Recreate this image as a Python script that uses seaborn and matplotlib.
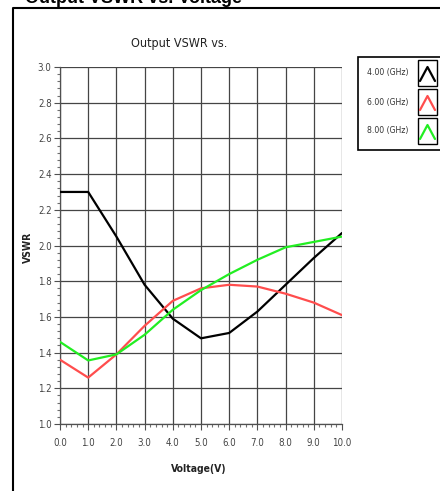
import matplotlib
matplotlib.use("Agg")
import matplotlib.pyplot as plt
import seaborn as sns
import pandas as pd
import numpy as np
from matplotlib.lines import Line2D
from matplotlib.patches import Rectangle
from matplotlib.ticker import MultipleLocator, AutoMinorLocator

# ---- data ----
voltage = [0, 1, 2, 3, 4, 5, 6, 7, 8, 9, 10]
vswr_4ghz = [2.30, 2.30, 2.05, 1.78, 1.59, 1.48, 1.51, 1.63, 1.78, 1.93, 2.07]
vswr_6ghz = [1.36, 1.26, 1.39, 1.55, 1.69, 1.76, 1.78, 1.77, 1.73, 1.68, 1.61]
vswr_8ghz = [1.46, 1.356, 1.39, 1.50, 1.64, 1.75, 1.84, 1.92, 1.99, 2.02, 2.05]
series_names = ["4.00 (GHz)", "6.00 (GHz)", "8.00 (GHz)"]
series_colors = ["#000000", "#ff4d4d", "#22ee22"]
x_ticks = [0, 1, 2, 3, 4, 5, 6, 7, 8, 9, 10]
y_ticks = [1.0, 1.2, 1.4, 1.6, 1.8, 2.0, 2.2, 2.4, 2.6, 2.8, 3.0]

df = pd.DataFrame({
    "Voltage": voltage * 3,
    "VSWR": vswr_4ghz + vswr_6ghz + vswr_8ghz,
    "Freq": [series_names[0]] * 11 + [series_names[1]] * 11 + [series_names[2]] * 11,
})

sns.set_style("white")
plt.rcParams["font.family"] = ["DejaVu Sans"]
plt.rcParams["font.stretch"] = "condensed"

W, H = 440, 491
fig = plt.figure(figsize=(W / 100, H / 100), dpi=100)

def fx(px):
    return px / W

def fy(py):
    return 1 - py / H

ax = fig.add_axes([fx(60), fy(424), fx(342) - fx(60), fy(67) - fy(424)])

sns.lineplot(data=df, x="Voltage", y="VSWR", hue="Freq",
             palette=dict(zip(series_names, series_colors)),
             linewidth=1.6, ax=ax, legend=False, zorder=3)

ax.set_xlim(0, 10)
ax.set_ylim(1.0, 3.0)
ax.set_xticks(x_ticks)
ax.set_xticklabels([f"{v:.1f}" for v in x_ticks])
ax.set_yticks(y_ticks)
ax.set_yticklabels([f"{v:.1f}" for v in y_ticks])
ax.xaxis.set_minor_locator(AutoMinorLocator(5))
ax.yaxis.set_minor_locator(AutoMinorLocator(5))
ax.grid(True, which="major", color="#454545", linewidth=0.9)
ax.tick_params(axis="both", which="major", direction="out", length=4, width=0.8,
               color="#505050", labelsize=7, labelcolor="#444444", pad=2,
               left=True, bottom=True)
ax.tick_params(axis="both", which="minor", direction="out", length=2.5, width=0.8,
               color="#707070", left=True, bottom=True)
ax.tick_params(axis="x", which="major", pad=6)
for s in ["top", "right"]:
    ax.spines[s].set_visible(False)
for s in ["left", "bottom"]:
    ax.spines[s].set_color("#505050")
    ax.spines[s].set_linewidth(0.9)

ax.set_xlabel("Voltage(V)", fontsize=7.5, fontweight="bold", color="#222222")
ax.set_ylabel("VSWR", fontsize=7.5, fontweight="bold", color="#222222")
ax.xaxis.set_label_coords(0.493, -0.113)
ax.yaxis.set_label_coords(-0.096, 0.496)

# inner title
fig.text(fx(179), fy(43), "Output VSWR vs.", ha="center", va="center",
         fontsize=9, color="#222222")

# outer (cropped) title
fig.text(fx(25), fy(3), "Output VSWR vs. Voltage", ha="left", va="baseline",
         fontsize=13, fontweight="bold", fontstretch="normal",
         family=["Liberation Sans", "DejaVu Sans"], color="black")

# outer frame
fig.add_artist(Line2D([fx(13), fx(13), fx(445)], [fy(495), fy(8), fy(8)],
                      transform=fig.transFigure, color="black", linewidth=1.5))

# legend box
fig.add_artist(Rectangle((fx(358), fy(150)), fx(445) - fx(358), fy(57) - fy(150),
                         transform=fig.transFigure, facecolor="white",
                         edgecolor="black", linewidth=1.2))
entry_y = [73, 102, 131]
for name, color, yc in zip(series_names, series_colors, entry_y):
    fig.text(fx(367), fy(yc), name, ha="left", va="center", fontsize=6.2,
             color="#333333")
    fig.add_artist(Rectangle((fx(418), fy(yc + 13)), fx(437) - fx(418), fy(yc - 13) - fy(yc + 13),
                             transform=fig.transFigure, facecolor="white",
                             edgecolor="black", linewidth=1.0))
    fig.add_artist(Line2D([fx(420), fx(427.5), fx(435)], [fy(yc + 8), fy(yc - 6), fy(yc + 8)],
                          transform=fig.transFigure, color=color, linewidth=1.6))

fig.savefig("out.png", dpi=100)
